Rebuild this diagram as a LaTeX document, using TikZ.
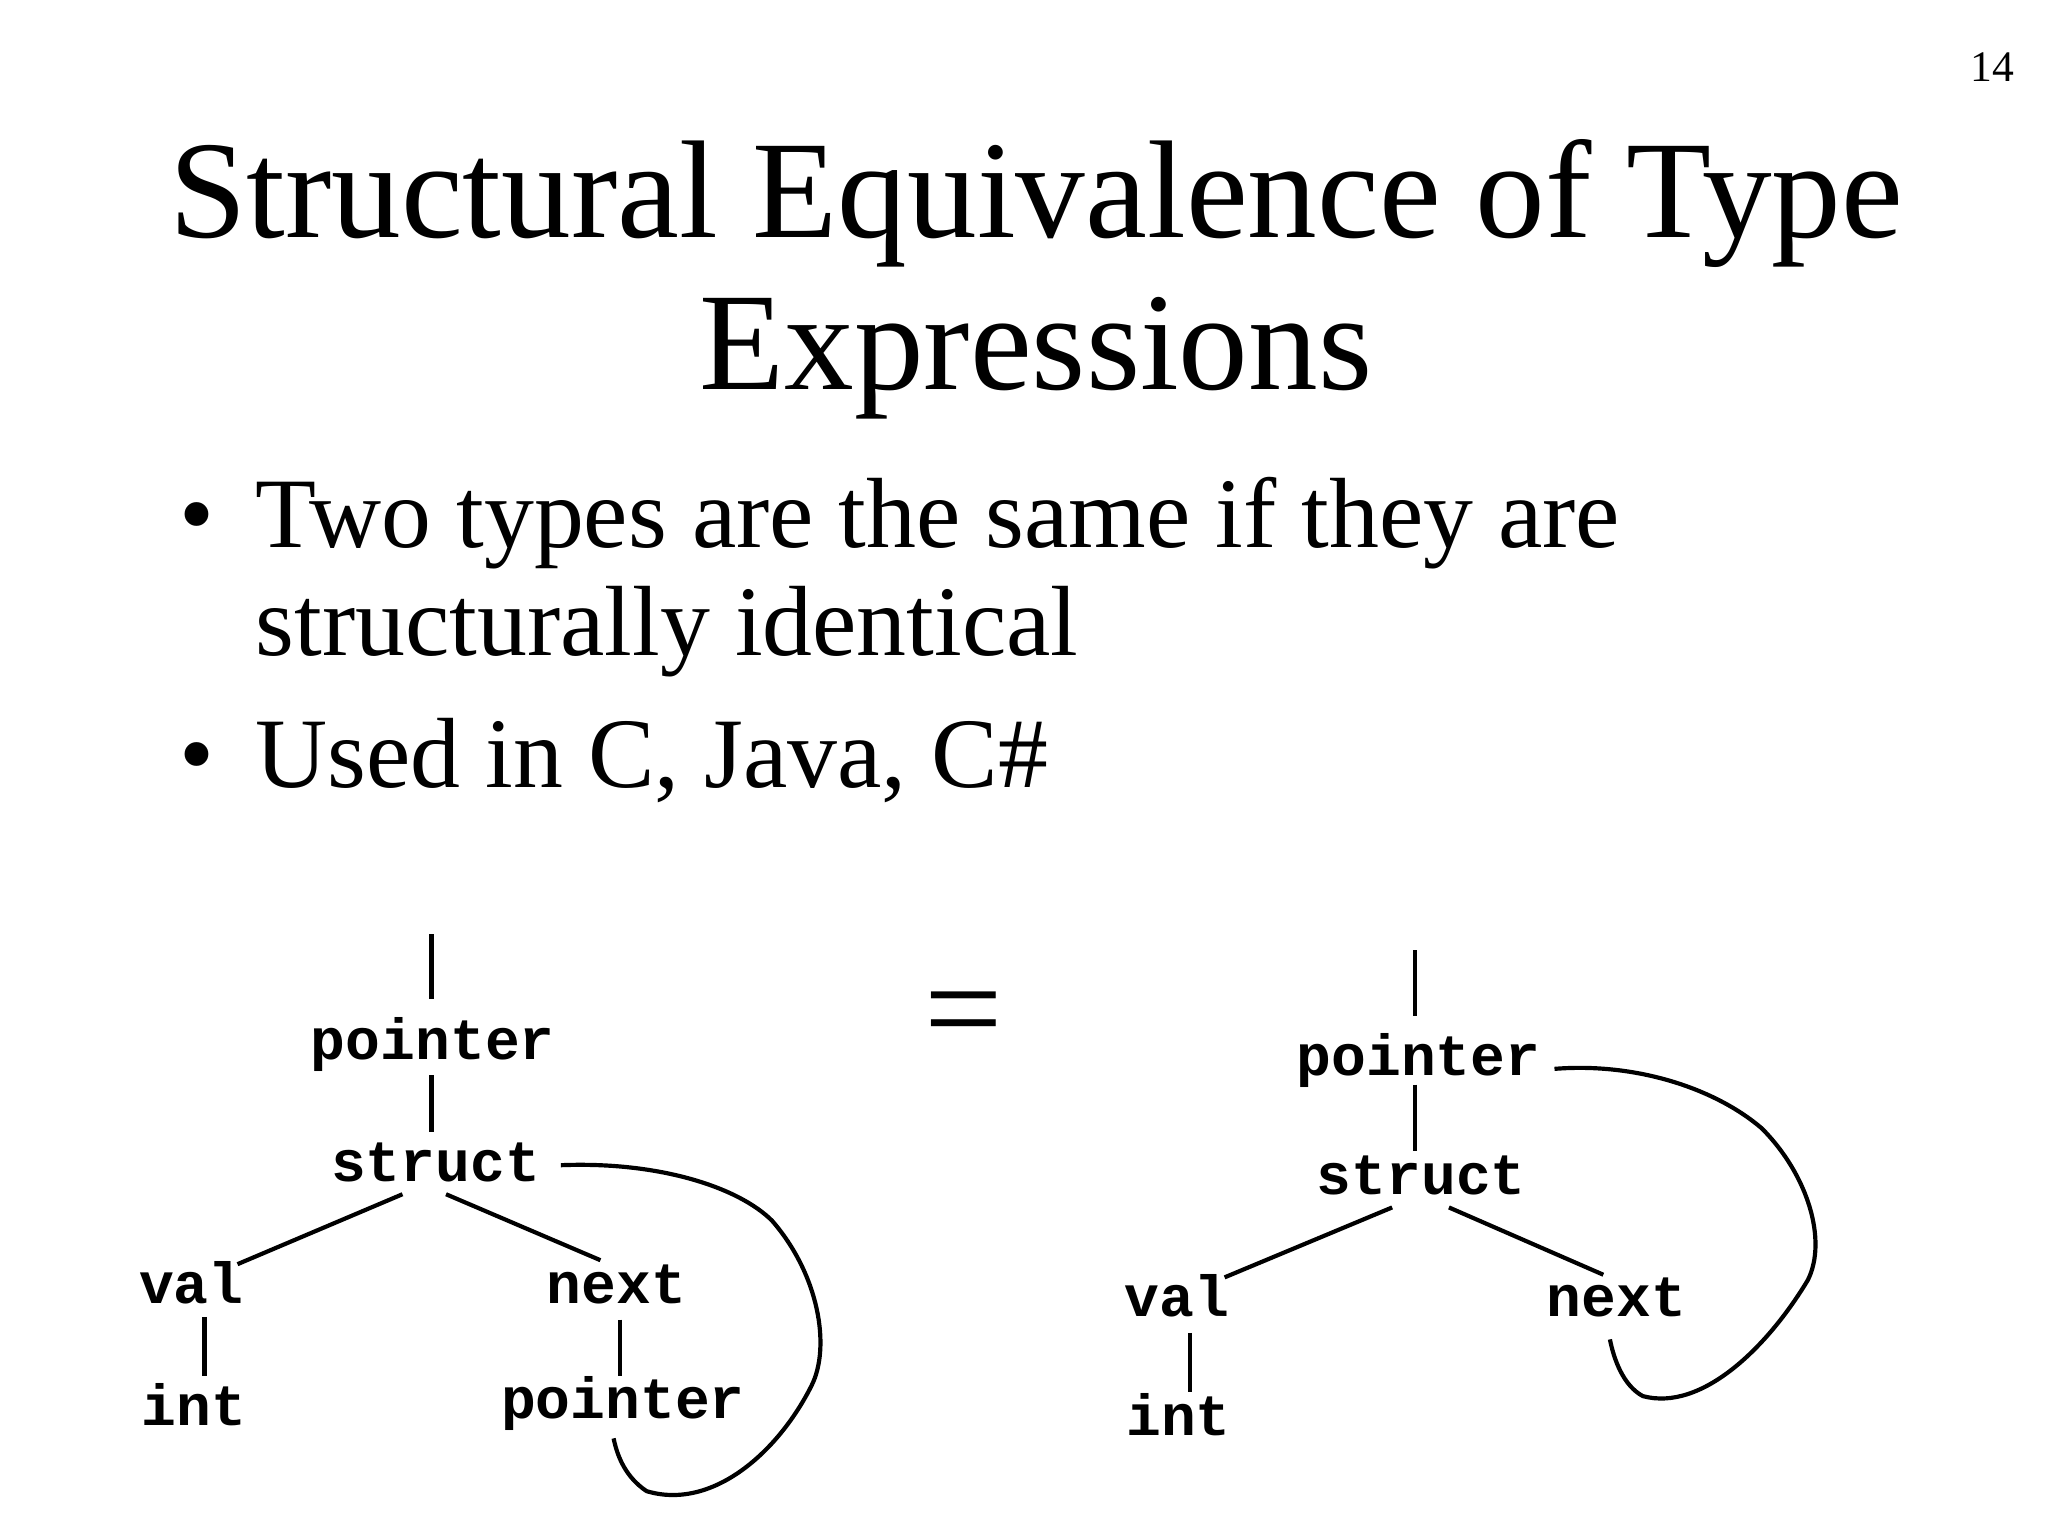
\documentclass[tikz,border=0pt]{standalone}
\usepackage{fontspec}
\setmainfont{Liberation Serif}
\setmonofont{Liberation Mono}
\begin{document}
\begin{tikzpicture}[x=0.01cm,y=-0.01cm,
  code/.style={font=\ttfamily\bfseries\fontsize{12.5pt}{14pt}\selectfont, inner sep=0pt, anchor=base},
  edge/.style={line width=0.9pt}]
\useasboundingbox (0,0) rectangle (1552,1164);
\node[anchor=base,inner sep=0pt,font=\fontsize{9.4pt}{11pt}\selectfont] (pg) at (1510,62) {14};
\node[anchor=base,inner sep=0pt,font=\fontsize{30pt}{36pt}\selectfont] (t1) at (785,180) {Structural Equivalence of Type};
\node[anchor=base,inner sep=0pt,font=\fontsize{30pt}{36pt}\selectfont] (t2) at (785,295) {Expressions};
\begin{scope}[every node/.style={anchor=base west,inner sep=0pt,font=\fontsize{21.5pt}{26pt}\selectfont}]
\node (b1) at (135,415) {\textbullet};
\node (l1) at (193,415) {Two types are the same if they are};
\node (l2) at (193,497) {structurally identical};
\node (b2) at (135,597) {\textbullet};
\node (l3) at (193,597) {Used in C, Java, C\#};
\end{scope}
\node[anchor=base,inner sep=0pt,font=\fontsize{30pt}{36pt}\selectfont] (eq) at (730,800) {=};
% left tree
\node[code] (lp) at (328,803) {pointer};
\node[code] (ls) at (330,895) {struct};
\node[code] (lv) at (145,988) {val};
\node[code] (ln) at (467,988) {next};
\node[code] (li) at (147,1080) {int};
\node[code] (lp2) at (472,1075) {pointer};
\coordinate (ltop) at (327,708);
\draw[edge] (ltop) -- (327,757);
\draw[edge] (327,815) -- (327,858);
\draw[edge] (305,905) -- (180,958);
\draw[edge] (338,905) -- (455,955);
\draw[edge] (155,998) -- (155,1043);
\draw[edge] (470,1000) -- (470,1043);
\draw[edge] (425,883) .. controls (500,880) and (560,900) .. (585,925)
  .. controls (620,965) and (630,1020) .. (615,1050)
  .. controls (590,1100) and (540,1145) .. (490,1130)
  .. controls (475,1120) and (468,1105) .. (465,1090);
% right tree
\node[code] (rp) at (1075,815) {pointer};
\node[code] (rs) at (1077,905) {struct};
\node[code] (rv) at (892,998) {val};
\node[code] (rn) at (1225,998) {next};
\node[code] (ri) at (893,1088) {int};
\draw[edge] (1072,720) -- (1072,770);
\draw[edge] (1072,822) -- (1072,872);
\draw[edge] (1055,915) -- (928,968);
\draw[edge] (1098,915) -- (1215,966);
\draw[edge] (902,1010) -- (902,1055);
\draw[edge] (1178,810) .. controls (1240,805) and (1300,825) .. (1335,855)
  .. controls (1370,890) and (1385,940) .. (1370,970)
  .. controls (1340,1020) and (1290,1070) .. (1245,1058)
  .. controls (1230,1050) and (1223,1030) .. (1220,1015);
\end{tikzpicture}
\end{document}
